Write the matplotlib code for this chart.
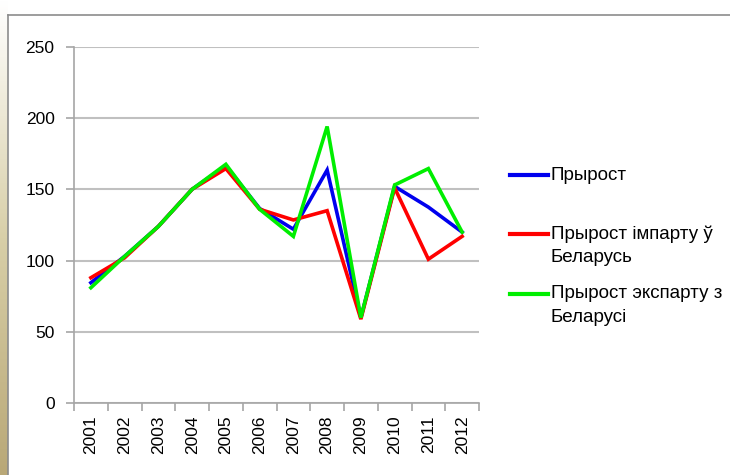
"""Growth of trade turnover, imports and exports of Belarus, 2001-2012."""

import numpy as np
import matplotlib

matplotlib.use("Agg")
import matplotlib.pyplot as plt
from matplotlib.lines import Line2D

plt.rcParams["font.family"] = ["Liberation Sans", "DejaVu Sans"]

years = ["2001", "2002", "2003", "2004", "2005", "2006",
         "2007", "2008", "2009", "2010", "2011", "2012"]
growth_total = [84.5, 103, 124, 150, 166.5, 136.5, 122, 163.5, 60, 152, 137.5, 120]
growth_import = [88, 102, 124, 150, 164.5, 136, 128.5, 135, 59, 151, 101, 117]
growth_export = [81, 103, 124, 150, 167.5, 136, 117, 194, 60, 153, 164.5, 120]

series_labels = [["Прырост"],
                 ["Прырост імпарту ў", "Беларусь"],
                 ["Прырост экспарту з", "Беларусі"]]
series_colors = ["#0000ee", "#ff0000", "#00ee00"]

W, H = 730, 475
fig = plt.figure(figsize=(W / 100, H / 100), dpi=100)

# textured strip on the left edge of the slide
strip = fig.add_axes([0, 0, 8 / W, 1])
grad = np.linspace(0, 1, 200).reshape(-1, 1)
strip.imshow(grad, aspect="auto", cmap=matplotlib.colors.LinearSegmentedColormap.from_list(
    "beige", ["#b9a877", "#d8cfa8", "#ffffff"]), origin="lower", extent=[0, 1, 0, 1])
strip.set_axis_off()

# slide frame
fig.add_artist(Line2D([8 / W, 1], [1 - 15 / H, 1 - 15 / H], color="#8c8c8c", lw=1.2))
fig.add_artist(Line2D([8 / W, 8 / W], [0, 1 - 15 / H], color="#8c8c8c", lw=1.2))

ax = fig.add_axes([74 / W, 1 - 403.3 / H, 405 / W, (403.3 - 46.6) / H])

x = np.arange(len(years))
for values, color in zip([growth_total, growth_import, growth_export], series_colors):
    ax.plot(x, values, color=color, lw=2.6, solid_joinstyle="miter")

ax.set_xlim(-0.5, len(years) - 0.5)
ax.set_ylim(0, 250)
ax.set_yticks(np.arange(0, 251, 50))
ax.set_xticks(x)
ax.set_xticklabels(years, rotation=90, fontsize=12.5)
ax.tick_params(axis="x", length=0, pad=9)
ax.set_xticks(np.arange(-0.5, len(years), 1), minor=True)
ax.tick_params(axis="x", which="minor", length=6, color="#a6a6a6", width=1.2)
ax.tick_params(axis="y", length=6, color="#a6a6a6", width=1.2, labelsize=12.5, pad=8)
ax.grid(axis="y", color="#c0c0c0", lw=1.5)
ax.set_axisbelow(True)
for side in ["top", "right"]:
    ax.spines[side].set_visible(False)
for side in ["left", "bottom"]:
    ax.spines[side].set_color("#a6a6a6")
    ax.spines[side].set_linewidth(1.2)

# legend drawn by hand: handle sits on the first text line, Excel style
legend_rows = [175, 234, 294]
for row, lines, color in zip(legend_rows, series_labels, series_colors):
    fig.add_artist(Line2D([510 / W, 548 / W], [1 - row / H] * 2, color=color, lw=3))
    for k, text in enumerate(lines):
        fig.text(551 / W, 1 - (row + 24 * k) / H, text, fontsize=13.5,
                 ha="left", va="center")

fig.savefig("out.png", dpi=100)
